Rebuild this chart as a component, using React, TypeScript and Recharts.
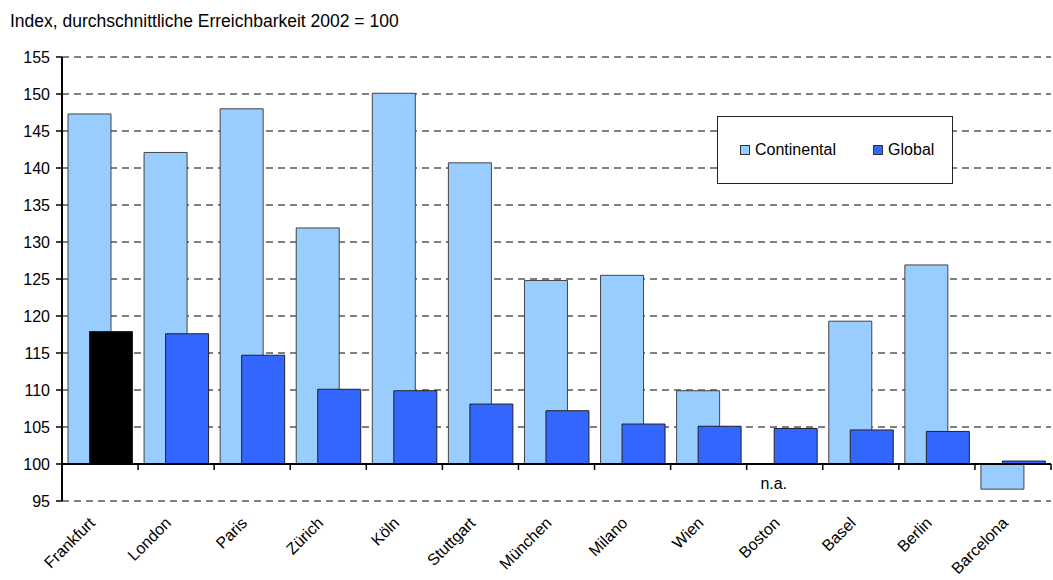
import { BarChart, Bar, XAxis, YAxis, CartesianGrid, ReferenceLine, Legend, Cell } from "recharts";

const cities = ["Frankfurt", "London", "Paris", "Zürich", "Köln", "Stuttgart", "München", "Milano", "Wien", "Boston", "Basel", "Berlin", "Barcelona"];
const continental: (number | null)[] = [147.3, 142.1, 148.0, 131.9, 150.1, 140.7, 124.8, 125.5, 109.9, null, 119.3, 126.9, 96.6];
const global: number[] = [117.9, 117.6, 114.7, 110.1, 109.9, 108.1, 107.2, 105.4, 105.1, 104.8, 104.6, 104.4, 100.4];
const yTicks = [95, 100, 105, 110, 115, 120, 125, 130, 135, 140, 145, 150, 155];
const BASE = 100;

const W = 1053;
const H = 580;
const M = { top: 57, right: 2, left: 0, bottom: 0 };
const Y_AXIS_W = 62;
const X_AXIS_H = 79;
const PLOT_W = W - M.left - M.right - Y_AXIS_W;
const PLOT_H = H - M.top - M.bottom - X_AXIS_H;
const BAND = PLOT_W / cities.length;
// distance from the bottom of the plot (95) up to the 100 line
const UP100 = (PLOT_H * (BASE - yTicks[0])) / (yTicks[yTicks.length - 1] - yTicks[0]);

const FONT = '"Liberation Sans", Arial, sans-serif';

// ranged bars so that they grow from 100
const data = cities.map((c, i) => ({
  city: c,
  cont: continental[i] == null ? null : [BASE, continental[i]],
  glob: [BASE, global[i]],
}));

function CityTick(props: any) {
  const { x, y, payload, index } = props;
  const y100 = y - UP100;
  const left = x - BAND / 2;
  const missing = continental[index] == null;
  const tx = x - 4;
  const ty = y + 23;
  return (
    <g>
      <line x1={left} x2={left} y1={y100} y2={y100 + 6} stroke="#000" strokeWidth={1.5} />
      {index === cities.length - 1 && (
        <line x1={left + BAND} x2={left + BAND} y1={y100} y2={y100 + 6} stroke="#000" strokeWidth={1.5} />
      )}
      {missing && (
        <text x={x - 11} y={y100 + 25} textAnchor="middle" fontSize={16} fontFamily={FONT} fill="#000">
          n.a.
        </text>
      )}
      <text x={tx} y={ty} textAnchor="end" fontSize={16} fontFamily={FONT} fill="#000" transform={`rotate(-45 ${tx} ${ty})`}>
        {payload.value}
      </text>
    </g>
  );
}

function LegendBox() {
  const item = (color: string, label: string, w: number) => (
    <div style={{ display: "flex", alignItems: "center", width: w }}>
      <span style={{ display: "inline-block", width: 8, height: 8, background: color, border: "1px solid #333", marginRight: 5 }} />
      <span>{label}</span>
    </div>
  );
  return (
    <div
      style={{
        width: 236,
        height: 68,
        boxSizing: "border-box",
        border: "1px solid #222",
        background: "#fff",
        display: "flex",
        alignItems: "center",
        paddingLeft: 22,
        fontFamily: FONT,
        fontSize: 16,
        color: "#000",
      }}
    >
      {item("#99CCFF", "Continental", 135)}
      {item("#3366FF", "Global", 80)}
    </div>
  );
}

export default function App() {
  return (
    <div style={{ position: "absolute", left: 0, top: 0, width: W, height: H, background: "#fff" }}>
      <div style={{ position: "absolute", left: 10, top: 11, fontFamily: FONT, fontSize: 17.5, color: "#000", whiteSpace: "nowrap" }}>
        Index, durchschnittliche Erreichbarkeit 2002 = 100
      </div>
      <BarChart width={W} height={H} data={data} margin={M} barGap={-21.5} barCategoryGap={0}>
        <CartesianGrid horizontal vertical={false} stroke="#000" strokeDasharray="7 5" strokeWidth={1} />
        <XAxis
          dataKey="city"
          height={X_AXIS_H}
          axisLine={false}
          tickLine={false}
          tickSize={0}
          tickMargin={0}
          interval={0}
          tick={<CityTick />}
        />
        <YAxis
          width={Y_AXIS_W}
          domain={[95, 155]}
          ticks={yTicks}
          allowDataOverflow
          axisLine={{ stroke: "#000", strokeWidth: 2 }}
          tickLine={{ stroke: "#000", strokeWidth: 1.5 }}
          tickSize={6}
          tickMargin={6}
          tick={{ fill: "#000", fontSize: 16, fontFamily: FONT }}
        />
        <Legend
          layout="horizontal"
          verticalAlign="middle"
          align="center"
          wrapperStyle={{ left: 717, top: 116, width: 236, height: 68 }}
          content={<LegendBox />}
        />
        <Bar dataKey="cont" barSize={43} fill="#99CCFF" stroke="#444" strokeWidth={1} isAnimationActive={false} />
        <Bar dataKey="glob" barSize={43} fill="#3366FF" stroke="#222" strokeWidth={1} isAnimationActive={false}>
          {data.map((d, i) => (
            <Cell key={d.city} fill={i === 0 ? "#000000" : "#3366FF"} />
          ))}
        </Bar>
        <ReferenceLine y={BASE} stroke="#000" strokeWidth={2} />
      </BarChart>
    </div>
  );
}
